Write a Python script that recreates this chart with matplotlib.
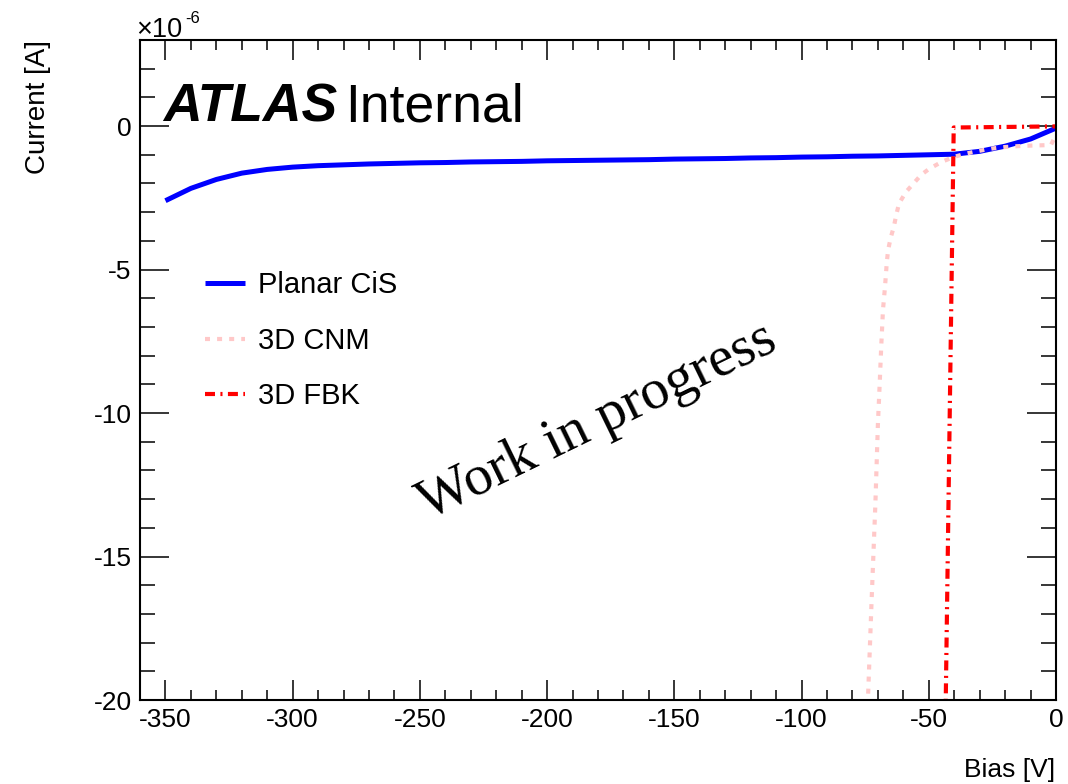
import matplotlib
matplotlib.use("Agg")
import matplotlib.pyplot as plt
from matplotlib.ticker import MultipleLocator

plt.rcParams['font.family'] = ['Liberation Sans', 'DejaVu Sans']

# Planar CiS (bias in V, current in 1e-6 A)
planar_bias = [-350, -340, -330, -320, -310, -300, -290, -280, -270, -260,
               -250, -240, -230, -220, -210, -200, -190, -180, -170, -160,
               -150, -140, -130, -120, -110, -100, -90, -80, -70, -60,
               -50, -40, -30, -20, -10, 0]
planar_current = [-2.60, -2.17, -1.86, -1.64, -1.51, -1.43, -1.38, -1.35, -1.32, -1.30,
                  -1.28, -1.27, -1.25, -1.24, -1.23, -1.21, -1.20, -1.19, -1.18, -1.17,
                  -1.15, -1.14, -1.13, -1.11, -1.10, -1.08, -1.07, -1.05, -1.04, -1.02,
                  -1.00, -0.98, -0.88, -0.70, -0.45, -0.07]

# 3D CNM
cnm_bias = [-74.0, -72.5, -71.0, -70.0, -69.3, -68.7, -68.0, -67.2, -66.5, -66.0,
            -65.0, -63.7, -62.8, -61.7, -59.0, -56.0, -53.0, -50.0, -45.0, -40.0,
            -35.0, -30.0, -25.0, -20.0, -15.0, -10.0, -2.0, 0.0]
cnm_current = [-20.2, -16.6, -13.2, -10.4, -9.0, -7.7, -6.4, -5.6, -4.75, -4.33,
               -3.9, -3.5, -3.1, -2.7, -2.3, -2.0, -1.7, -1.5, -1.25, -1.07,
               -0.95, -0.86, -0.78, -0.73, -0.70, -0.68, -0.66, -0.30]

# 3D FBK
fbk_bias = [-43.8, -40.2, -30, -20, -10, 0]
fbk_current = [-23.0, -0.05, -0.04, -0.03, -0.02, -0.01]

W, H = 1068, 784
fig = plt.figure(figsize=(W / 100, H / 100), dpi=100)
ax = fig.add_axes([140 / W, 1 - 700 / H, (1056 - 140) / W, (700 - 40) / H])

ax.plot(planar_bias, planar_current, color='#0000ff', lw=3.6, label='Planar CiS',
        solid_capstyle='butt')
ax.plot(cnm_bias, cnm_current, color='#ffc8c8', lw=3.0, label='3D CNM',
        dashes=(1.2, 1.7))
ax.plot(fbk_bias, fbk_current, color='#ff0000', lw=3.0, label='3D FBK',
        dashes=(2.4, 1.3, 0.5, 1.3))

ax.set_xlim(-360, 0)
ax.set_ylim(-20, 3)

ax.xaxis.set_major_locator(MultipleLocator(50))
ax.xaxis.set_minor_locator(MultipleLocator(10))
ax.yaxis.set_major_locator(MultipleLocator(5))
ax.yaxis.set_minor_locator(MultipleLocator(1))
ax.tick_params(which='both', direction='in', top=True, right=True, width=1.1,
               labelsize=19, colors='black')
ax.tick_params(axis='x', which='major', length=14.4, pad=6)
ax.tick_params(axis='x', which='minor', length=7.2)
ax.tick_params(axis='y', which='major', length=20.9, pad=6)
ax.tick_params(axis='y', which='minor', length=10.8)
for sp in ax.spines.values():
    sp.set_linewidth(1.5)

ax.set_xticks([-350, -300, -250, -200, -150, -100, -50, 0])
ax.set_xticklabels(['-350', '-300', '-250', '-200', '-150', '-100', '-50', '0'])
ax.set_yticks([0, -5, -10, -15, -20])
ax.set_yticklabels(['0', '-5', '-10', '-15', '-20'])

# axis titles (ROOT style)
fig.text(38 / W, 1 - 40 / H, 'Current [A]', rotation=90, ha='center', va='top',
         fontsize=20)
fig.text(1055 / W, 1 - 770 / H, 'Bias [V]', ha='right', va='center', fontsize=19)
fig.text(136 / W, 1 - 37 / H, '\u00d710', ha='left', va='baseline', fontsize=19.5)
fig.text(185 / W, 1 - 23 / H, '-6', ha='left', va='baseline', fontsize=12)

# ATLAS label
fig.text(163 / W, 1 - 122 / H, 'ATLAS', fontsize=38.5, fontweight='bold',
         fontstyle='italic', ha='left', va='baseline')
fig.text(345 / W, 1 - 122 / H, 'Internal', fontsize=38.5, ha='left', va='baseline')

fig.text(597 / W, 1 - 422 / H, 'Work in progress', fontsize=41, rotation=26,
         family=['Liberation Serif', 'DejaVu Serif'], ha='center', va='center',
         rotation_mode='anchor')

leg = ax.legend(loc='upper left', bbox_to_anchor=(205 / W, 1 - 271 / H),
                bbox_transform=fig.transFigure, frameon=False, fontsize=21,
                handlelength=1.37, handletextpad=0.45, labelspacing=0.95,
                borderpad=0, borderaxespad=0)

fig.savefig('out.png', dpi=100)
